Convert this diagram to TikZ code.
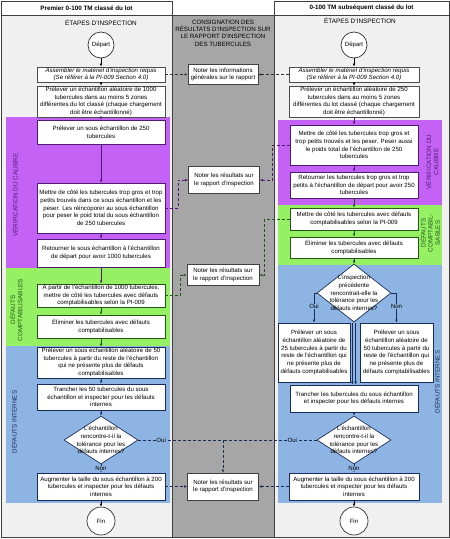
\documentclass[tikz,border=0pt]{standalone}
\usepackage{fontspec}
\setmainfont{Liberation Sans}
\usetikzlibrary{arrows.meta,shapes.geometric}

\definecolor{fond}{RGB}{240,240,240}
\definecolor{consign}{RGB}{166,166,166}
\definecolor{calibre}{RGB}{196,98,245}
\definecolor{calibreF}{RGB}{80,25,115}
\definecolor{comptab}{RGB}{150,240,100}
\definecolor{comptabF}{RGB}{35,85,25}
\definecolor{interne}{RGB}{141,180,226}
\definecolor{interneF}{RGB}{25,45,90}

\tikzset{
	etape/.style={draw=#1, fill=white, line width=0.7pt, align=center, inner sep=1pt, minimum width=128pt},
	etape/.default=black!70,
	note/.style={draw=black!75, fill=white, line width=0.7pt, align=center, inner sep=1pt, minimum width=71pt},
	debut/.style={circle, draw=black!80, fill=white, line width=0.7pt, minimum size=26pt, inner sep=0pt},
	decision/.style={diamond, draw=interneF, fill=white, line width=0.7pt, align=center, inner sep=-5pt, aspect=1.5, minimum width=74pt, minimum height=48pt},
	cote/.style={rotate=90, align=center, text=#1, font=\fontsize{6.3}{7.2}\selectfont},
	titre/.style={font=\bfseries\fontsize{6.3}{7.2}\selectfont},
	fleche/.style={draw=#1, line width=0.7pt, -{Latex[length=3pt,width=2.6pt]}},
	fleche/.default=black,
	pointille/.style={draw=#1, line width=0.7pt, dash pattern=on 3pt off 2pt, -{Latex[length=3pt,width=2.6pt]}},
	pointille/.default=black!80,
	oui/.style={fill=interne, inner sep=0.5pt},
	italique/.style={font={\fontsize{6.1}{7.3}\selectfont\itshape}}
}

\begin{document}
\begin{tikzpicture}[x=1pt, y=-1pt, font=\fontsize{6.1}{7.7}\selectfont]
	\useasboundingbox (0,0) rectangle (450,539);

	\pgfmathsetmacro{\xg}{101}
	\pgfmathsetmacro{\xd}{354}
	\pgfmathsetmacro{\xm}{223}

	% Colonnes
	\filldraw[fill=fond, draw=black!75, line width=0.8pt] (1,1) rectangle (172,537);
	\filldraw[fill=consign, draw=black!75, line width=0.8pt] (172,15) rectangle (274,537);
	\filldraw[fill=fond, draw=black!75, line width=0.8pt] (274,1) rectangle (449,537);
	\filldraw[fill=white, draw=black!75, line width=0.8pt] (1,1) rectangle (172,15);
	\filldraw[fill=white, draw=black!75, line width=0.8pt] (274,1) rectangle (449,15);

	% Bandes
	\fill[calibre] (6,117) rectangle (170,268);
	\fill[comptab] (6,268) rectangle (170,346);
	\fill[interne] (6,346) rectangle (170,503);
	\fill[calibre] (278,120) rectangle (442,205);
	\fill[comptab] (278,205) rectangle (442,265);
	\fill[interne] (278,265) rectangle (442,503);

	% Titres
	\node[titre] (hG) at (86.5,8) {Premier 0-100 TM classé du lot};
	\node[titre] (hD) at (361.5,8) {0-100 TM subséquent classé du lot};
	\node[font=\fontsize{6.4}{7.4}\selectfont] (eG) at (\xg,23) {ÉTAPES D'INSPECTION};
	\node[font=\fontsize{6.4}{7.4}\selectfont] (eD) at (360,21) {ÉTAPES D'INSPECTION};
	\node[align=center, font=\fontsize{6.2}{7.4}\selectfont] (tM) at (\xm,33)
	{CONSIGNATION DES\\RÉSULTATS D'INSPECTION SUR\\LE RAPPORT D'INSPECTION\\DES TUBERCULES};

	\node[cote=calibreF] (cG1) at (15,195) {VÉRIFICATION DU CALIBRE};
	\node[cote=comptabF] (cG2) at (16,310) {DÉFAUTS\\COMPTABILISABLES};
	\node[cote=interneF] (cG3) at (14,422) {DÉFAUTS INTERNES};
	\node[cote=calibreF] (cD1) at (432,162) {VÉRIFICATION DU\\CALIBRE};
	\node[cote=comptabF] (cD2) at (430,233) {DÉFAUTS\\COMPTABIL-\\SABLES};
	\node[cote=interneF] (cD3) at (437,382) {DÉFAUTS INTERNES};

	% Gauche
	\node[debut] (dG) at (\xg,45) {Départ};
	\node[etape, italique, minimum height=15pt] (L1) at (\xg,74.5)
	{Assembler le matériel d'inspection requis\\(Se référer à la PI-009 Section 4.0)};
	\node[etape, minimum height=31pt] (L2) at (\xg,101.5)
	{Prélever un échantillon aléatoire de 1000\\tubercules dans au moins 5 zones\\différentes du lot classé (chaque chargement\\doit être échantillonné)};
	\node[etape=calibreF, minimum height=24pt] (L3) at (\xg,132)
	{Prélever un sous échantillon de 250\\tubercules};
	\node[etape=calibreF, minimum height=50pt] (L4) at (\xg,208)
	{Mettre de côté les tubercules trop gros et trop\\petits trouvés dans ce sous échantillon et les\\peser. Les réincoporer au sous échantillon\\pour peser le poid total du sous échantillon\\de 250 tubercules};
	\node[etape=calibreF, minimum height=28pt] (L5) at (\xg,253)
	{Retourner le sous échantillon à l'échantillon\\de départ pour avoir 1000 tubercules};
	\node[etape=comptabF, minimum height=23pt] (L6) at (\xg,295.5)
	{A partir de l'échantillon de 1000 tubercules,\\mettre de côté les tubercules avec défauts\\comptabilisables selon la PI-009};
	\node[etape=comptabF, minimum height=23pt] (L7) at (\xg,326.5)
	{Éliminer les tubercules avec défauts\\comptabilisables};
	\node[etape=interneF, minimum height=31pt] (L8) at (\xg,362.5)
	{Prélever un sous échantillon aléatoire de 50\\tubercules à partir du reste de l'échantillon\\qui ne présente plus de défauts\\comptabilisables};
	\node[etape=interneF, minimum height=26pt] (L9) at (\xg,397)
	{Trancher les 50 tubercules du sous\\échantillon et inspecter pour les défauts\\internes};
	\node[decision] (LD) at (\xg,440)
	{L'échantillon\\rencontre-t-il la\\tolérance pour les\\défauts internes?};
	\node[etape=interneF, minimum height=27pt] (L10) at (\xg,486.5)
	{Augmenter la taille du sous échantillon à 200\\tubercules et inspecter pour les défauts\\internes};
	\node[debut, minimum size=28pt] (fG) at (\xg,521) {Fin};

	% Droite
	\node[debut] (dD) at (\xd,45) {Départ};
	\node[etape, italique, minimum width=130pt, minimum height=15pt] (R1) at (\xd,74.5)
	{Assembler le matériel d'inspection requis\\(Se référer à la PI-009 Section 4.0)};
	\node[etape, minimum width=130pt, minimum height=31pt] (R2) at (\xd,101.5)
	{Prélever un échantillon aléatoire de 250\\tubercules dans au moins 5 zones\\différentes du lot classé (chaque chargement\\doit être échantillonné)};
	\node[etape=calibreF, minimum height=40pt] (R3) at (\xd,145)
	{Mettre de côté les tubercules trop gros et\\trop petits trouvés et les peser. Peser aussi\\le poids total de l'échantillon de 250\\tubercules};
	\node[etape=calibreF, minimum height=26pt] (R4) at (\xd,185)
	{Retourner les tubercules trop gros et trop\\petits à l'échantillon de départ pour avoir 250\\tubercules};
	\node[etape=comptabF, minimum height=22pt] (R5) at (\xd,219)
	{Mettre de côté les tubercules avec défauts\\comptabilisables selon la PI-009};
	\node[etape=comptabF, minimum height=21pt] (R6) at (\xd,247.5)
	{Éliminer les tubercules avec défauts\\comptabilisables};
	\node[decision, aspect=1.28, minimum height=58pt] (RD) at (\xd,293)
	{L'inspection\\précédente\\rencontrait-elle la\\tolérance pour les\\défauts internes?};
	\node[etape=interneF, minimum width=72pt, minimum height=59pt] (R7) at (314,352.5)
	{Prélever un sous\\échantillon aléatoire de\\25 tubercules à partir du\\reste de l'échantillon qui\\ne présente plus de\\défauts comptabilisables};
	\node[etape=interneF, minimum width=73pt, minimum height=59pt] (R8) at (396.5,352.5)
	{Prélever un sous\\échantillon aléatoire de\\50 tubercules à partir du\\reste de l'échantillon qui\\ne présente plus de\\défauts comptabilisables};
	\node[etape=interneF, minimum height=27pt] (R9) at (\xd,398.5)
	{Trancher les tubercules du sous échantillon\\et inspecter pour les défauts internes};
	\node[decision] (RD2) at (\xd,440)
	{L'échantillon\\rencontre-t-il la\\tolérance pour les\\défauts internes?};
	\node[etape=interneF, minimum width=130pt, minimum height=27pt] (R10) at (\xd,486.5)
	{Augmenter la taille du sous échantillon à 200\\tubercules et inspecter pour les défauts\\internes};
	\node[debut, minimum size=28pt] (fD) at (\xd,521) {Fin};

	% Rapport
	\node[note, minimum width=70pt, minimum height=20pt] (N1) at (\xm,74.5)
	{Noter les informations\\générales sur le rapport};
	\node[note, minimum height=27pt] (N2) at (224,180)
	{Noter les résultats sur\\le rapport d'inspection};
	\node[note, minimum width=72pt, minimum height=21pt] (N3) at (\xm,275)
	{Noter les résultats sur\\le rapport d'inspection};
	\node[note, minimum height=27pt] (N4) at (\xm,486.5)
	{Noter les résultats sur\\le rapport d'inspection};

	% Fleches
	\foreach \a/\b/\c in {dG/L1/black, L1/L2/black, L2/L3/calibreF, L3/L4/calibreF, L4/L5/calibreF, L5/L6/calibreF, L6/L7/comptabF, L7/L8/comptabF, L8/L9/interneF, L9/LD/interneF, L10/fG/black, dD/R1/black, R1/R2/black, R2/R3/calibreF, R3/R4/calibreF, R4/R5/comptabF, R5/R6/comptabF, R6/RD/interneF, R9/RD2/interneF, R10/fD/black}
	{
	\draw[fleche=\c] (\a) -- (\b);
	}
	\draw[fleche=interneF] (LD) -- node[oui]{Non} (L10);
	\draw[fleche=interneF] (RD2) -- node[oui]{Non} (R10);
	\draw[fleche=interneF] (RD.west) -- (RD.west -| R7.north) -- node[oui, pos=0.45]{Oui} (R7.north);
	\draw[fleche=interneF] (RD.east) -- (RD.east -| R8.north) -- node[oui, pos=0.45]{Non} (R8.north);
	\draw[fleche=interneF] ([xshift=2pt]R7.north east) -- ([xshift=2pt]R7.north east |- R9.north);
	\draw[fleche=interneF] ([xshift=-4pt]R8.north west) -- ([xshift=-4pt]R8.north west |- R9.north);

	% Pointilles
	\draw[pointille] (L1.east) -- (N1.west);
	\draw[pointille] (R1.west) -- (N1.east);
	\draw[pointille=calibreF] (L4.east) -- ++(13,0) |- (N2.west);
	\draw[pointille=calibreF] (R3.west) -- ++(-17,0) |- (N2.east);
	\draw[pointille=comptabF] (L6.east) -- ++(15,0) |- (N3.west);
	\draw[pointille=comptabF] (R5.west) -- ++(-25,0) |- (N3.east);
	\draw[pointille=interneF] (LD.east) -- node[oui, pos=0.27]{Oui} (LD.east -| N4.north) -- (N4.north);
	\draw[pointille=interneF, -] (RD2.west) -- node[oui, pos=0.26]{Oui} (RD2.west -| N4.north);
	\draw[pointille=interneF] (L10.east) -- (N4.west);
	\draw[pointille=interneF] (R10.west) -- (N4.east);

\end{tikzpicture}
\end{document}
